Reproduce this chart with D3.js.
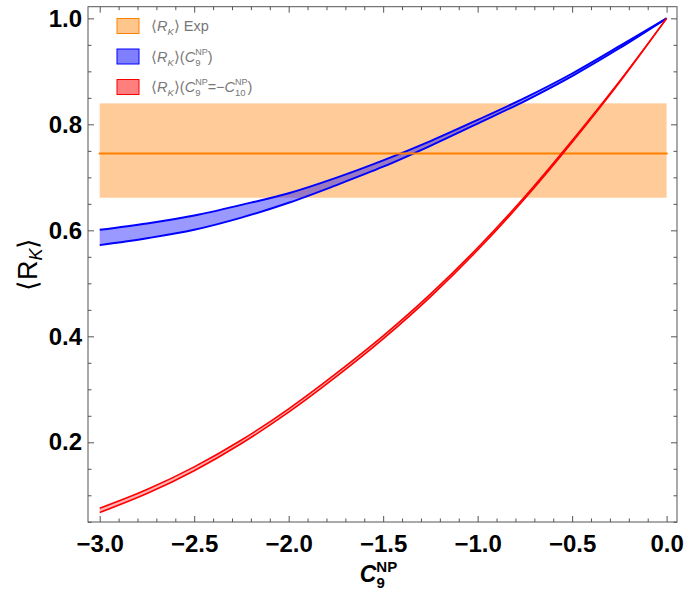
<!DOCTYPE html>
<html>
<head>
<meta charset="utf-8">
<script src="https://cdn.jsdelivr.net/npm/d3@7"></script>
<style>
  html, body { margin: 0; padding: 0; background: #fff; }
  svg { display: block; }
  .tick text { font-family: "Liberation Sans", Arial, sans-serif; font-weight: bold; font-size: 24px; fill: #000; }
  .tick line { stroke: #555; }
</style>
</head>
<body>
<svg id="chart" width="687" height="590"></svg>
<script>
// C9^NP sample positions and R_K bands (upper / lower edge of each band)
const c9Grid    = [-3.0, -2.75, -2.5, -2.25, -2.0, -1.75, -1.5, -1.25, -1.0, -0.75, -0.5, -0.25, 0.0];
const blueUpper = [0.601, 0.613, 0.628, 0.648, 0.670, 0.699, 0.732, 0.7685, 0.8085, 0.850, 0.896, 0.9475, 1.0];
const blueLower = [0.572, 0.585, 0.601, 0.624, 0.652, 0.685, 0.720, 0.7595, 0.8015, 0.844, 0.891, 0.9435, 1.0];
const redUpper  = [0.0755, 0.1108, 0.1536, 0.2043, 0.2632, 0.3296, 0.4008, 0.4795, 0.5672, 0.6639, 0.7697, 0.8811, 1.0];
const redLower  = [0.0675, 0.1032, 0.1464, 0.1977, 0.2568, 0.3234, 0.3952, 0.4745, 0.5628, 0.6601, 0.7663, 0.8789, 1.0];

// experimental R_K: central value and 1-sigma band
const expRange   = [-3.0, 0.0];
const expCentral = 0.745;
const expHigh    = 0.8396;
const expLow     = 0.6615;

// axis ticks
const xMajor = [-3.0, -2.5, -2.0, -1.5, -1.0, -0.5, 0.0];
const xMinor = d3.range(-30, 1).map(d => d / 10).filter(v => !xMajor.some(m => Math.abs(m - v) < 1e-9));
const yMajor = [0.2, 0.4, 0.6, 0.8, 1.0];
const yMinor = d3.range(1, 21).map(d => d / 20).filter(v => !yMajor.some(m => Math.abs(m - v) < 1e-9));

const svg = d3.select("#chart");
const L = 88, R = 677, T = 6.7, B = 522;
const x = d3.scaleLinear().domain([-3.062, 0.055]).range([L, R]);
const y = d3.scaleLinear().domain([0.0496, 1.022]).range([B, T]);

const fmt = d3.format(".1f");

// experimental band
svg.append("rect")
  .attr("x", x(expRange[0])).attr("width", x(expRange[1]) - x(expRange[0]))
  .attr("y", y(expHigh)).attr("height", y(expLow) - y(expHigh))
  .attr("fill", "#ff8000").attr("fill-opacity", 0.4);

function band(c9, up, lo, color, fillOpacity, width) {
  const pts = c9.map((c, i) => ({ c, u: up[i], l: lo[i] }));
  const area = d3.area().x(d => x(d.c)).y0(d => y(d.l)).y1(d => y(d.u)).curve(d3.curveMonotoneX);
  const line = key => d3.line().x(d => x(d.c)).y(d => y(d[key])).curve(d3.curveMonotoneX);
  const g = svg.append("g");
  g.append("path").datum(pts).attr("d", area).attr("fill", color).attr("fill-opacity", fillOpacity);
  g.append("path").datum(pts).attr("d", line("u")).attr("fill", "none").attr("stroke", color).attr("stroke-width", width);
  g.append("path").datum(pts).attr("d", line("l")).attr("fill", "none").attr("stroke", color).attr("stroke-width", width);
}

band(c9Grid, blueUpper, blueLower, "#0000ff", 0.4, 1.9);

// experimental central value
svg.append("line")
  .attr("x1", x(expRange[0]) - 1).attr("x2", x(expRange[1]) + 1)
  .attr("y1", y(expCentral)).attr("y2", y(expCentral))
  .attr("stroke", "#ff8000").attr("stroke-width", 2);

band(c9Grid, redUpper, redLower, "#ff0000", 0.3, 1.6);

// frame with inward ticks on all sides
function ticks(axis, transform) {
  svg.append("g").attr("transform", transform).call(axis).call(g => g.select(".domain").remove());
}
ticks(d3.axisBottom(x).tickValues(xMajor).tickSize(-6).tickPadding(13).tickFormat(fmt), `translate(0,${B})`);
ticks(d3.axisBottom(x).tickValues(xMinor).tickSize(-3.5).tickFormat(""), `translate(0,${B})`);
ticks(d3.axisTop(x).tickValues(xMajor).tickSize(-6).tickFormat(""), `translate(0,${T})`);
ticks(d3.axisTop(x).tickValues(xMinor).tickSize(-3.5).tickFormat(""), `translate(0,${T})`);
ticks(d3.axisLeft(y).tickValues(yMajor).tickSize(-6).tickPadding(6).tickFormat(fmt), `translate(${L},0)`);
ticks(d3.axisLeft(y).tickValues(yMinor).tickSize(-3.5).tickFormat(""), `translate(${L},0)`);
ticks(d3.axisRight(y).tickValues(yMajor).tickSize(-6).tickFormat(""), `translate(${R},0)`);
ticks(d3.axisRight(y).tickValues(yMinor).tickSize(-3.5).tickFormat(""), `translate(${R},0)`);

svg.append("rect")
  .attr("x", L).attr("y", T).attr("width", R - L).attr("height", B - T)
  .attr("fill", "none").attr("stroke", "#555").attr("stroke-width", 1);

// axis titles
const xt = svg.append("text")
  .attr("x", (L + R) / 2 - 4).attr("y", 581.5)
  .attr("text-anchor", "middle")
  .attr("font-family", "Liberation Sans, Arial, sans-serif")
  .attr("font-weight", "bold").attr("font-size", 23);
xt.append("tspan").attr("font-style", "italic").text("C");
xt.append("tspan").attr("font-size", 15).attr("dy", 6).text("9");
xt.append("tspan").attr("font-size", 15).attr("dx", -8.5).attr("dy", -16).text("NP");

const yt = svg.append("text")
  .attr("transform", `translate(37,${(T + B) / 2}) rotate(-90)`)
  .attr("text-anchor", "middle")
  .attr("font-family", "Liberation Sans, Arial, sans-serif")
  .attr("font-size", 27);
yt.append("tspan").text("\u27E8R");
yt.append("tspan").attr("font-size", 18).attr("font-style", "italic").attr("dy", 5).text("K");
yt.append("tspan").attr("dy", -5).text("\u27E9");

// legend
const legendItems = [
  { color: "#ff8000", op: 0.45, parts: [["\u27E8", ""], ["R", "i"], ["K", "isub"], ["\u27E9 Exp", ""]] },
  { color: "#0000ff", op: 0.5,  parts: [["\u27E8", ""], ["R", "i"], ["K", "isub"], ["\u27E9(", ""], ["C", "i"], ["9", "sub"], ["NP", "sup"], [")", ""]] },
  { color: "#ff0000", op: 0.5,  parts: [["\u27E8", ""], ["R", "i"], ["K", "isub"], ["\u27E9(", ""], ["C", "i"], ["9", "sub"], ["NP", "sup"], ["=\u2212", ""], ["C", "i"], ["10", "sub"], ["NP", "sup"], [")", ""]] }
];
const lg = svg.append("g");
legendItems.forEach((it, i) => {
  const cy = 26 + i * 30.5;
  lg.append("rect").attr("x", 117).attr("y", cy - 7.5).attr("width", 22).attr("height", 15)
    .attr("fill", it.color).attr("fill-opacity", it.op).attr("stroke", it.color).attr("stroke-width", 1);
  const t = lg.append("text").attr("x", 151).attr("y", cy + 5)
    .attr("font-family", "Liberation Sans, Arial, sans-serif").attr("font-size", 14.5).attr("fill", "#777");
  let shift = 0;
  it.parts.forEach(([s, kind], k) => {
    const ts = t.append("tspan").text(s);
    let target = 0;
    if (kind.includes("sub")) { ts.attr("font-size", 9.5); target = 4; }
    if (kind === "sup") { ts.attr("font-size", 9); target = -7; }
    if (kind.includes("i")) ts.attr("font-style", "italic");
    const dy = target - shift;
    if (dy !== 0) ts.attr("dy", dy);
    // superscript stacked above the preceding subscript
    if (kind === "sup" && it.parts[k - 1] && it.parts[k - 1][1] === "sub") {
      ts.attr("dx", -(it.parts[k - 1][0].length * 5.3));
    }
    shift = target;
  });
});
</script>
</body>
</html>
